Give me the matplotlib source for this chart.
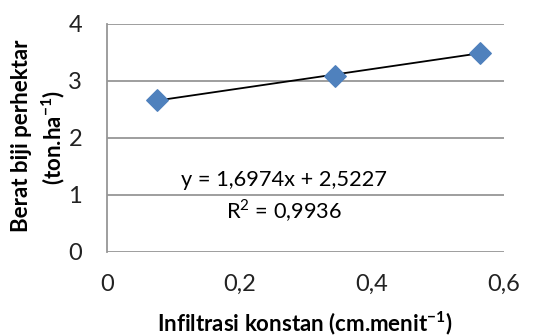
#!/usr/bin/env python3

import numpy as np
import matplotlib.pyplot as plt

# data
infiltrasi = [0.076, 0.345, 0.564]
berat_biji = [2.66, 3.08, 3.49]
x_ticks = [0, 0.2, 0.4, 0.6]
x_tick_labels = ['0', '0,2', '0,4', '0,6']
y_ticks = [0, 1, 2, 3, 4]
slope = 1.6974
intercept = 2.5227
r2 = 0.9936


def main():
    plt.rcParams['font.family'] = ['Lato', 'DejaVu Sans']
    plt.rcParams['mathtext.fontset'] = 'custom'
    plt.rcParams['mathtext.rm'] = 'Lato'
    plt.rcParams['mathtext.bf'] = 'Lato:bold'

    fig = plt.figure(figsize=(5.44, 3.36), dpi=100)
    ax = fig.add_axes([107 / 544, 1 - 252 / 336, (504 - 107) / 544, (252 - 23.5) / 336])

    # trendline over the data range
    xs = np.array([min(infiltrasi), max(infiltrasi)])
    ax.plot(xs, slope * xs + intercept, color='black', lw=1.3, zorder=2)

    ax.scatter(infiltrasi, berat_biji, marker='D', s=120, color='#4f81bd',
               edgecolors='#4f81bd', zorder=3)

    ax.set_xlim(0, 0.6)
    ax.set_ylim(0, 4)
    ax.set_xticks(x_ticks)
    ax.set_xticklabels(x_tick_labels)
    ax.set_yticks(y_ticks)
    ax.tick_params(length=0, labelsize=17, colors='#222222')
    ax.tick_params(axis='x', pad=16)
    ax.tick_params(axis='y', pad=18)

    ax.grid(axis='y', color='#969696', lw=1.3)
    ax.set_axisbelow(True)
    for s in ['top', 'right', 'bottom']:
        ax.spines[s].set_visible(False)
    ax.spines['left'].set_color('#969696')
    ax.spines['left'].set_linewidth(1.3)

    # equation
    ax.text(0.268, 1.26, 'y = 1,6974x + 2,5227', ha='center', va='center', fontsize=15.7)
    ax.text(0.268, 0.73, 'R$^2$ = 0,9936', ha='center', va='center', fontsize=15.7)

    fig.text(22 / 544, 1 - 136 / 336, 'Berat biji perhektar', rotation=90,
             ha='center', va='center', fontsize=16, fontweight='bold')
    fig.text(53 / 544, 1 - 138 / 336, '(ton.ha$^{\\mathbf{-1}}$)', rotation=90,
             ha='center', va='center', fontsize=16, fontweight='bold')
    fig.text(305 / 544, 1 - 323 / 336, 'Infiltrasi konstan (cm.menit$^{\\mathbf{-1}}$)',
             ha='center', va='center', fontsize=16, fontweight='bold')

    fig.savefig('out.png', dpi=100)


if __name__ == "__main__":
    main()
